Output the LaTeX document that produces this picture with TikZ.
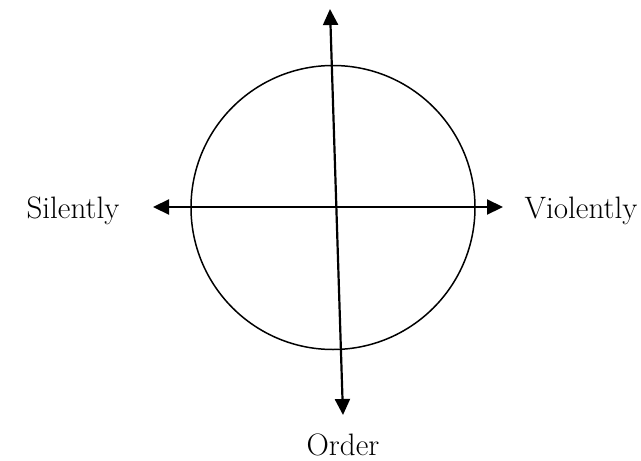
\documentclass[tikz,border=0pt]{standalone}
\usetikzlibrary{arrows.meta}
\begin{document}
\begin{tikzpicture}[x=1pt,y=-1pt,
  axis/.style={line width=2.2pt,-{Triangle[length=16pt,width=15pt]}},
  lbl/.style={font=\fontsize{31}{34}\selectfont,inner sep=0pt}]
\useasboundingbox (0,0) rectangle (641,461);
\node[draw,circle,line width=1.5pt,minimum size=284pt,inner sep=0pt] (c) at (333,207.5) {};
\coordinate (l) at (153,207);
\coordinate (r) at (503,207);
\coordinate (t) at (330,9);
\coordinate (b) at (343,415);
\coordinate (h) at (328,207);
\coordinate (v) at (336.5,212);
\draw[axis] (h) -- (l);
\draw[axis] (h) -- (r);
\draw[axis] (v) -- (t);
\draw[axis] (v) -- (b);
\node[lbl] (sil) at (73,211) {Silently};
\node[lbl] (vio) at (581,211) {Violently};
\node[lbl] (ord) at (343,445) {Order};
\end{tikzpicture}
\end{document}
